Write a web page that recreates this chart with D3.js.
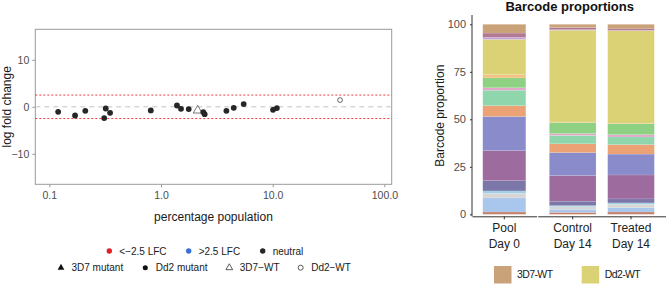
<!DOCTYPE html>
<html>
<head>
<meta charset="utf-8">
<script src="https://cdn.jsdelivr.net/npm/d3@7"></script>
<style>
    body { margin: 0; background: #fff; }
    svg { display: block; font-family: "Liberation Sans", Arial, sans-serif; }
</style>
</head>
<body>
<svg id="chart" width="666" height="284"></svg>
<script>
// ---- Left panel: log fold change vs percentage population ----
const lfcPercent = [0.12, 0.17, 0.21, 0.31, 0.32, 0.35, 0.81, 1.39, 1.51, 1.77, 2.13, 2.39, 2.46, 3.85, 4.48, 5.50, 10.07, 10.9, 40.1];
const lfcValue   = [-1.06, -1.85, -0.85, -2.4, -0.36, -1.28, -0.78, 0.28, -0.43, -0.49, -0.78, -1.13, -1.56, -0.85, -0.21, 0.57, -0.64, -0.28, 1.43];
const lfcStrain  = ['Dd2 mutant', 'Dd2 mutant', 'Dd2 mutant', 'Dd2 mutant', 'Dd2 mutant', 'Dd2 mutant', 'Dd2 mutant',
                    'Dd2 mutant', 'Dd2 mutant', 'Dd2 mutant', '3D7-WT', 'Dd2 mutant', 'Dd2 mutant', 'Dd2 mutant',
                    'Dd2 mutant', 'Dd2 mutant', 'Dd2 mutant', 'Dd2 mutant', 'Dd2-WT'];
const xTicks = [0.1, 1, 10, 100];
const yTicks = [-10, 0, 10];
const cutoff = 2.5;

// ---- Right panel: barcode proportions (bottom to top) ----
const samples = ['Pool|Day 0', 'Control|Day 14', 'Treated|Day 14'];
const facets = [['Pool|Day 0'], ['Control|Day 14', 'Treated|Day 14']];
const barcodes = ['bc01', 'bc02', 'bc03', 'bc04', 'bc05', 'bc06', 'bc07', 'bc08',
                  'bc09', 'bc10', 'bc11', 'bc12', 'Dd2-WT', 'bc14', 'bc15', '3D7-WT'];
const poolDay0     = [1.2, 7.4, 2.5, 1.2, 5.4, 15.8, 18.0, 5.7, 8.1, 1.3, 5.2, 1.7, 18.6, 1.1, 2.2, 4.6];
const controlDay14 = [1.0, 1.6, 1.4, 0.6, 2.3, 13.5, 12.1, 4.6, 4.4, 1.0, 5.8, 0.3, 48.3, 0.3, 1.1, 1.7];
const treatedDay14 = [1.2, 2.2, 1.9, 0.7, 2.1, 12.6, 11.0, 5.0, 4.0, 1.2, 5.8, 0.3, 48.6, 0.3, 0.7, 2.4];
const barTicks = [0, 25, 50, 75, 100];
const legendKeys = ['3D7-WT', 'Dd2-WT'];

const palette = ['#c47c64', '#a9c6ec', '#d6d6d6', '#9ecfe4', '#7b77a9', '#9d6b9e', '#8a8bcb', '#eba274',
                 '#8fd6ad', '#e2a7c9', '#8fd183', '#f2c283', '#dad274', '#c5a2de', '#b27a92', '#c9a27a'];

const svg = d3.select('#chart');
const tickGrey = '#4d4d4d';

// Scatter -------------------------------------------------------------
function drawScatter() {
    const box = { left: 35.3, right: 391.7, top: 29.3, bottom: 184.3 };
    const x = d3.scaleLog().domain([0.0749, 116.3]).range([box.left, box.right]);
    const y = d3.scaleLinear().domain([-16.5, 16.5]).range([box.bottom, box.top]);
    const g = svg.append('g').attr('class', 'scatter');

    g.append('rect')
        .attr('x', box.left).attr('y', box.top)
        .attr('width', box.right - box.left).attr('height', box.bottom - box.top)
        .attr('fill', 'none').attr('stroke', '#9a9a9a').attr('stroke-width', 1);

    // reference lines
    g.append('line')
        .attr('x1', box.left).attr('x2', box.right)
        .attr('y1', y(0)).attr('y2', y(0))
        .attr('stroke', '#c4c4c4').attr('stroke-width', 1).attr('stroke-dasharray', '5,4');
    [cutoff, -cutoff].forEach((v) => {
        g.append('line')
            .attr('x1', box.left).attr('x2', box.right)
            .attr('y1', y(v)).attr('y2', y(v))
            .attr('stroke', '#ef3b3b').attr('stroke-width', 1).attr('stroke-dasharray', '2,2');
    });

    // axes
    const xAxis = g.append('g')
        .attr('transform', `translate(0, ${box.bottom})`)
        .call(d3.axisBottom(x).tickValues(xTicks).tickFormat(d3.format('.1f')).tickSize(3).tickPadding(4));
    const yAxis = g.append('g')
        .attr('transform', `translate(${box.left}, 0)`)
        .call(d3.axisLeft(y).tickValues(yTicks).tickFormat(d3.format('d')).tickSize(3).tickPadding(3));
    [xAxis, yAxis].forEach((a) => {
        a.select('.domain').remove();
        a.selectAll('line').attr('stroke', '#9a9a9a');
        a.selectAll('text').attr('fill', tickGrey).style('font-size', '10.5px');
    });

    g.append('text')
        .attr('x', (box.left + box.right) / 2).attr('y', 221)
        .attr('text-anchor', 'middle').style('font-size', '12px').attr('fill', '#1a1a1a')
        .text('percentage population');
    g.append('text')
        .attr('transform', `translate(11, ${(box.top + box.bottom) / 2}) rotate(-90)`)
        .attr('text-anchor', 'middle').style('font-size', '12px').attr('fill', '#1a1a1a')
        .text('log fold change');

    // points
    const points = lfcPercent.map((p, i) => ({ p, v: lfcValue[i], s: lfcStrain[i] }));
    const ink = '#262626';
    points.forEach((d) => {
        const px = x(d.p), py = y(d.v);
        if (d.s === 'Dd2 mutant') {
            g.append('circle').attr('cx', px).attr('cy', py).attr('r', 2.9).attr('fill', ink);
        } else if (d.s === '3D7-WT') {
            g.append('path').attr('d', d3.symbol(d3.symbolTriangle, 34)())
                .attr('transform', `translate(${px}, ${py})`)
                .attr('fill', 'none').attr('stroke', '#555').attr('stroke-width', 0.8);
        } else if (d.s === 'Dd2-WT') {
            g.append('circle').attr('cx', px).attr('cy', py).attr('r', 2.4)
                .attr('fill', 'none').attr('stroke', '#444').attr('stroke-width', 0.8);
        }
    });

    // legends
    const legend1 = [
        { label: '<\u22122.5 LFC', color: '#e01f26', x: 109.3 },
        { label: '>2.5 LFC', color: '#3b6fd8', x: 188.7 },
        { label: 'neutral', color: ink, x: 262.7 },
    ];
    legend1.forEach((d) => {
        g.append('circle').attr('cx', d.x).attr('cy', 251).attr('r', 2.7).attr('fill', d.color);
        g.append('text').attr('x', d.x + 10).attr('y', 254.5)
            .style('font-size', '10px').attr('fill', '#1a1a1a').text(d.label);
    });

    const legend2 = [
        { label: '3D7 mutant', shape: d3.symbolTriangle, filled: true, x: 61 },
        { label: 'Dd2 mutant', shape: d3.symbolCircle, filled: true, x: 145.3 },
        { label: '3D7\u2212WT', shape: d3.symbolTriangle, filled: false, x: 229.3 },
        { label: 'Dd2\u2212WT', shape: d3.symbolCircle, filled: false, x: 300.7 },
    ];
    legend2.forEach((d) => {
        g.append('path').attr('d', d3.symbol(d.shape, 20)())
            .attr('transform', `translate(${d.x}, 267.7)`)
            .attr('fill', d.filled ? '#111' : 'none')
            .attr('stroke', d.filled ? 'none' : '#333').attr('stroke-width', 0.8);
        g.append('text').attr('x', d.x + 10.5).attr('y', 271.2)
            .style('font-size', '10px').attr('fill', '#1a1a1a').text(d.label);
    });
}

// Stacked bars --------------------------------------------------------
function drawBars() {
    const top = 15, bottom = 216.3;
    const y = d3.scaleLinear().domain([-1.05, 104.9]).range([bottom, top]);
    const colour = d3.scaleOrdinal().domain(barcodes).range(palette);
    const g = svg.append('g').attr('class', 'bars');

    const rows = samples.map((s, i) => {
        const vals = [poolDay0, controlDay14, treatedDay14][i];
        const row = { sample: s };
        barcodes.forEach((b, j) => { row[b] = vals[j]; });
        return row;
    });
    const series = d3.stack().keys(barcodes)(rows);

    const panelRanges = [[472, 536.6], [537.7, 666]];
    const xs = facets.map((f, i) => d3.scaleBand().domain(f).range(panelRanges[i])
        .paddingInner(0.2).paddingOuter(0.2));
    const xOf = (s) => xs.find((sc) => sc.domain().includes(s));

    // segments
    g.selectAll('g.layer')
        .data(series)
        .join('g')
        .attr('class', 'layer')
        .attr('fill', (d) => colour(d.key))
        .selectAll('rect')
        .data((d) => d)
        .join('rect')
        .attr('x', (d) => xOf(d.data.sample)(d.data.sample))
        .attr('width', (d) => xOf(d.data.sample).bandwidth())
        .attr('y', (d) => y(d[1]))
        .attr('height', (d) => y(d[0]) - y(d[1]))
        .attr('stroke', '#fff').attr('stroke-opacity', 0.45).attr('stroke-width', 0.25);

    // y axis
    const yAxis = g.append('g')
        .attr('transform', `translate(472, 0)`)
        .call(d3.axisLeft(y).tickValues(barTicks).tickSize(2).tickPadding(4));
    yAxis.select('.domain').attr('d', `M0,${top}V${bottom}`).attr('stroke', '#333');
    yAxis.selectAll('line').attr('stroke', '#333');
    yAxis.selectAll('text').attr('fill', tickGrey).style('font-size', '11px');

    // x axes, one per facet
    xs.forEach((sc) => {
        const ax = g.append('g')
            .attr('transform', `translate(0, ${bottom})`)
            .call(d3.axisBottom(sc).tickSize(3).tickSizeOuter(0).tickFormat(''));
        ax.select('.domain').attr('stroke', '#333');
        ax.selectAll('line').attr('stroke', '#333');
        ax.selectAll('.tick').each(function (s) {
            const t = d3.select(this).append('text')
                .attr('text-anchor', 'middle').attr('fill', '#222').style('font-size', '12px');
            s.split('|').forEach((line, k) => {
                t.append('tspan').attr('x', 0).attr('y', 16 + k * 15.5).text(line);
            });
        });
    });

    g.append('text')
        .attr('x', 569.7).attr('y', 11)
        .attr('text-anchor', 'middle').style('font-size', '13px').style('font-weight', 'bold')
        .attr('fill', '#111').text('Barcode proportions');
    g.append('text')
        .attr('transform', `translate(444, ${(top + bottom) / 2}) rotate(-90)`)
        .attr('text-anchor', 'middle').style('font-size', '12px').attr('fill', '#1a1a1a')
        .text('Barcode proportion');

    // legend
    const legendX = [494, 581.7];
    legendKeys.forEach((k, i) => {
        g.append('rect').attr('x', legendX[i]).attr('y', 266)
            .attr('width', 17.5).attr('height', 17.5).attr('fill', colour(k));
        g.append('text').attr('x', legendX[i] + 23).attr('y', 277.5)
            .style('font-size', '10.5px').style('letter-spacing', '-0.6px')
            .attr('fill', '#1a1a1a').text(k);
    });
}

drawScatter();
drawBars();
</script>
</body>
</html>
